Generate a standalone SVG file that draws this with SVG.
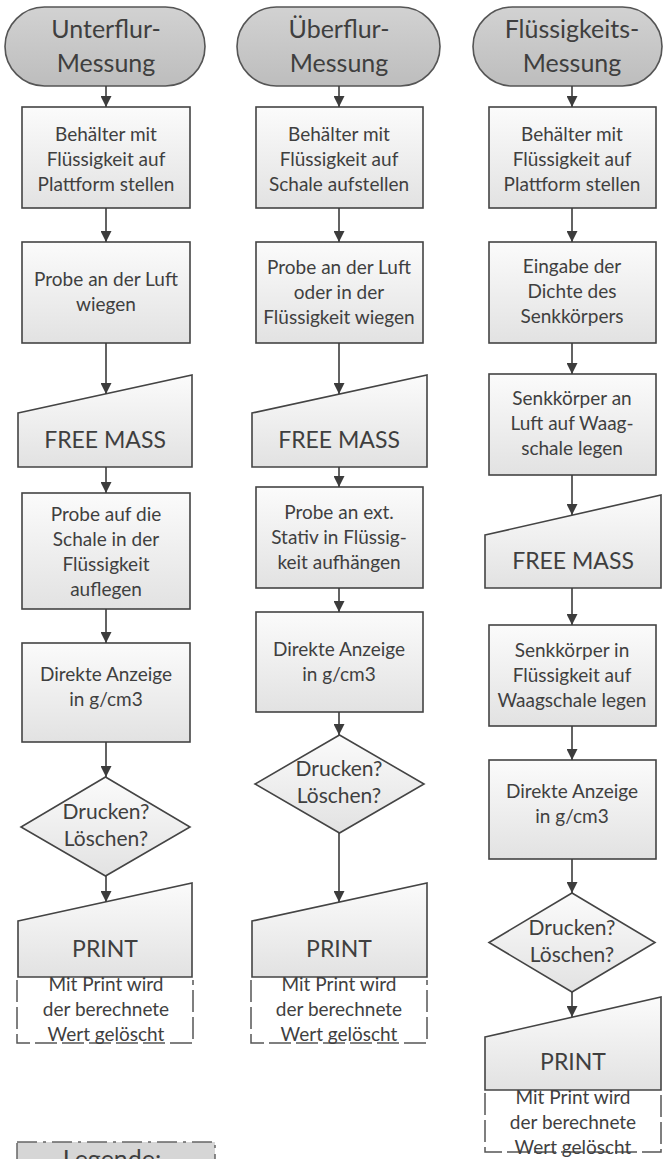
<svg xmlns="http://www.w3.org/2000/svg" width="667" height="1159" viewBox="0 0 667 1159">
<defs>
<linearGradient id="gBox" x1="0" y1="0" x2="0" y2="1">
<stop offset="0" stop-color="#fbfbfb"/><stop offset="1" stop-color="#e2e2e2"/>
</linearGradient>
<linearGradient id="gTerm" x1="0" y1="0" x2="0" y2="1">
<stop offset="0" stop-color="#d2d2d2"/><stop offset="1" stop-color="#bdbdbd"/>
</linearGradient>
<marker id="arr" viewBox="0 0 10 10" refX="10" refY="5" markerWidth="11" markerHeight="11" markerUnits="userSpaceOnUse" orient="auto">
<path d="M0,0 L10,5 L0,10 Z" fill="#3c3c3c"/>
</marker>
</defs>
<style>
.box{fill:url(#gBox);stroke:#444;stroke-width:1.6}
.term{fill:url(#gTerm);stroke:#555;stroke-width:1.6}
.ann{fill:none;stroke:#555;stroke-width:1.5;stroke-dasharray:22,5}
.t{font-family:Lato,"Liberation Sans",sans-serif;font-size:19px;fill:#3f3f3f;text-anchor:middle}
.tt{font-size:25px}
.tb{font-size:23px}
.td{font-size:21px}
.con line{stroke:#3c3c3c;stroke-width:1.6;marker-end:url(#arr)}
.leg{fill:#d6d6d6;stroke:#666;stroke-width:1.5;stroke-dasharray:20,6,3,6}
</style>
<rect width="667" height="1159" fill="#ffffff"/>

<!-- Column 1 -->
<g id="c1_start"><rect class="term" x="5" y="7" width="200" height="79" rx="39.5"/>
<text class="t tt" x="106" y="38">Unterflur-</text><text class="t tt" x="106" y="72">Messung</text></g>
<g id="c1_box1"><rect class="box" x="22" y="107" width="168" height="101"/>
<text class="t" x="106" y="141">Behälter mit</text><text class="t" x="106" y="166">Flüssigkeit auf</text><text class="t" x="106" y="191">Plattform stellen</text></g>
<g id="c1_box2"><rect class="box" x="22" y="242" width="168" height="101"/>
<text class="t" x="106" y="286">Probe an der Luft</text><text class="t" x="106" y="311">wiegen</text></g>
<g id="c1_free"><path class="box" d="M18,413 L192,375 L192,467 L18,467 Z"/>
<text class="t tb" x="105" y="448">FREE MASS</text></g>
<g id="c1_box3"><rect class="box" x="22" y="493" width="168" height="116"/>
<text class="t" x="106" y="521">Probe auf die</text><text class="t" x="106" y="546">Schale in der</text><text class="t" x="106" y="571">Flüssigkeit</text><text class="t" x="106" y="596">auflegen</text></g>
<g id="c1_box4"><rect class="box" x="22" y="643" width="168" height="99"/>
<text class="t" x="106" y="681">Direkte Anzeige</text><text class="t" x="106" y="706">in g/cm3</text></g>
<g id="c1_dec"><path class="box" d="M105.5,777 L190,827 L105.5,876 L21,827 Z"/>
<text class="t td" x="106" y="819">Drucken?</text><text class="t td" x="106" y="846">Löschen?</text></g>
<g id="c1_print"><path class="box" d="M18,921 L192,883 L192,977 L18,977 Z"/>
<text class="t tb" x="105" y="957">PRINT</text></g>
<g id="c1_note"><path class="ann" d="M17,980 V1043 H193 V980"/>
<text class="t" x="106" y="991">Mit Print wird</text><text class="t" x="106" y="1016">der berechnete</text><text class="t" x="106" y="1041">Wert gelöscht</text></g>

<!-- Column 2 -->
<g id="c2_start"><rect class="term" x="237" y="7" width="203" height="79" rx="39.5"/>
<text class="t tt" x="339" y="38">Überflur-</text><text class="t tt" x="339" y="72">Messung</text></g>
<g id="c2_box1"><rect class="box" x="256" y="107" width="167" height="101"/>
<text class="t" x="339" y="141">Behälter mit</text><text class="t" x="339" y="166">Flüssigkeit auf</text><text class="t" x="339" y="191">Schale aufstellen</text></g>
<g id="c2_box2"><rect class="box" x="256" y="242" width="167" height="101"/>
<text class="t" x="339" y="274">Probe an der Luft</text><text class="t" x="339" y="299">oder in der</text><text class="t" x="339" y="324">Flüssigkeit wiegen</text></g>
<g id="c2_free"><path class="box" d="M252,413 L427,375 L427,467 L252,467 Z"/>
<text class="t tb" x="339" y="448">FREE MASS</text></g>
<g id="c2_box3"><rect class="box" x="256" y="487" width="167" height="101"/>
<text class="t" x="339" y="519">Probe an ext.</text><text class="t" x="339" y="544">Stativ in Flüssig-</text><text class="t" x="339" y="569">keit aufhängen</text></g>
<g id="c2_box4"><rect class="box" x="256" y="612" width="167" height="100"/>
<text class="t" x="339" y="656">Direkte Anzeige</text><text class="t" x="339" y="681">in g/cm3</text></g>
<g id="c2_dec"><path class="box" d="M339.5,735 L424,784 L339.5,833 L255,784 Z"/>
<text class="t td" x="339" y="776">Drucken?</text><text class="t td" x="339" y="803">Löschen?</text></g>
<g id="c2_print"><path class="box" d="M252,921 L427,883 L427,977 L252,977 Z"/>
<text class="t tb" x="339" y="957">PRINT</text></g>
<g id="c2_note"><path class="ann" d="M251,980 V1043 H427 V980"/>
<text class="t" x="339" y="991">Mit Print wird</text><text class="t" x="339" y="1016">der berechnete</text><text class="t" x="339" y="1041">Wert gelöscht</text></g>

<!-- Column 3 -->
<g id="c3_start"><rect class="term" x="473" y="7" width="189" height="79" rx="39.5"/>
<text class="t tt" x="572" y="38">Flüssigkeits-</text><text class="t tt" x="572" y="72">Messung</text></g>
<g id="c3_box1"><rect class="box" x="489" y="107" width="167" height="101"/>
<text class="t" x="572" y="141">Behälter mit</text><text class="t" x="572" y="166">Flüssigkeit auf</text><text class="t" x="572" y="191">Plattform stellen</text></g>
<g id="c3_box2"><rect class="box" x="489" y="242" width="167" height="101"/>
<text class="t" x="572" y="273">Eingabe der</text><text class="t" x="572" y="298">Dichte des</text><text class="t" x="572" y="323">Senkkörpers</text></g>
<g id="c3_box3"><rect class="box" x="489" y="374" width="167" height="101"/>
<text class="t" x="572" y="405">Senkkörper an</text><text class="t" x="572" y="430">Luft auf Waag-</text><text class="t" x="572" y="455">schale legen</text></g>
<g id="c3_free"><path class="box" d="M485,535 L661,495 L661,588 L485,588 Z"/>
<text class="t tb" x="573" y="569">FREE MASS</text></g>
<g id="c3_box4"><rect class="box" x="489" y="625" width="167" height="101"/>
<text class="t" x="572" y="657">Senkkörper in</text><text class="t" x="572" y="682">Flüssigkeit auf</text><text class="t" x="572" y="707">Waagschale legen</text></g>
<g id="c3_box5"><rect class="box" x="489" y="760" width="167" height="99"/>
<text class="t" x="572" y="798">Direkte Anzeige</text><text class="t" x="572" y="823">in g/cm3</text></g>
<g id="c3_dec"><path class="box" d="M572,893 L655,942.5 L572,992 L489,942.5 Z"/>
<text class="t td" x="572" y="935">Drucken?</text><text class="t td" x="572" y="962">Löschen?</text></g>
<g id="c3_print"><path class="box" d="M485,1037 L661,997 L661,1090 L485,1090 Z"/>
<text class="t tb" x="573" y="1070">PRINT</text></g>
<g id="c3_note"><path class="ann" d="M485,1093 V1152 H661 V1093"/>
<text class="t" x="573" y="1104">Mit Print wird</text><text class="t" x="573" y="1129">der berechnete</text><text class="t" x="573" y="1154">Wert gelöscht</text></g>

<!-- Legend -->
<g id="legend"><rect class="leg" x="17" y="1142" width="198" height="40"/>
<text class="t tt" x="112" y="1168">Legende:</text></g>

<!-- Connectors -->
<g class="con" id="connectors">
<line x1="106" y1="86" x2="106" y2="107"/>
<line x1="106" y1="208" x2="106" y2="242"/>
<line x1="106" y1="343" x2="106" y2="394"/>
<line x1="106" y1="467" x2="106" y2="493"/>
<line x1="106" y1="609" x2="106" y2="643"/>
<line x1="106" y1="742" x2="106" y2="777"/>
<line x1="106" y1="876" x2="106" y2="902"/>

<line x1="339" y1="86" x2="339" y2="107"/>
<line x1="339" y1="208" x2="339" y2="242"/>
<line x1="339" y1="343" x2="339" y2="394"/>
<line x1="339" y1="467" x2="339" y2="487"/>
<line x1="339" y1="588" x2="339" y2="612"/>
<line x1="339" y1="712" x2="339" y2="735"/>
<line x1="339" y1="833" x2="339" y2="902"/>

<line x1="572" y1="86" x2="572" y2="107"/>
<line x1="572" y1="208" x2="572" y2="242"/>
<line x1="572" y1="343" x2="572" y2="374"/>
<line x1="572" y1="475" x2="572" y2="515"/>
<line x1="572" y1="588" x2="572" y2="625"/>
<line x1="572" y1="726" x2="572" y2="760"/>
<line x1="572" y1="859" x2="572" y2="893"/>
<line x1="572" y1="992" x2="572" y2="1017"/>
</g>
</svg>
